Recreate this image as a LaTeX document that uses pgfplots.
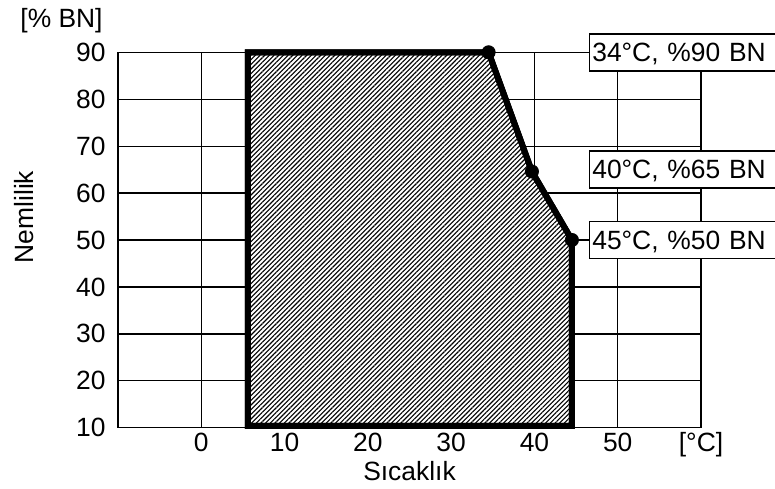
\documentclass[border=0pt]{standalone}
\usepackage{fontspec}
\setmainfont{Liberation Sans}
\usepackage{pgfplots}
\pgfplotsset{compat=1.18}
\usetikzlibrary{patterns.meta}
\begin{document}
\fontsize{13.2}{15.8}\selectfont
\begin{tikzpicture}
\begin{axis}[
  at={(0,0)}, anchor=south west,
  scale only axis, width=291.5pt, height=187.7pt,
  xmin=-10, xmax=60, ymin=10, ymax=90,
  xtick={0,10,20,30,40,50,60},
  xticklabels={0,10,20,30,40,50,[°C]},
  ytick={10,20,...,90},
  grid=major,
  major grid style={black, line width=0.65pt},
  axis line style={black, line width=0.75pt},
  major tick length=0pt,
  /pgf/number format/assume math mode=true,
  xticklabel style={anchor=base, inner sep=0pt, yshift=-11.8pt},
  yticklabel style={anchor=east, inner sep=0pt, xshift=-6pt},
  xlabel={Sıcaklık},
  xlabel style={at={(axis description cs:0.5,0)}, anchor=base, yshift=-26.3pt},
  ylabel={Nemlilik},
  ylabel style={at={(axis description cs:-0.161,0.561)}, anchor=center},
  clip=false,
]
\addplot[draw=black, line width=3pt, line join=miter, preaction={fill=white},
  pattern={Lines[angle=45,distance=1.65pt,line width=0.55pt]}]
  coordinates {(5.6,10.4) (5.6,90) (34.5,90) (39.7,64.6) (44.5,50) (44.5,10.4)} -- cycle;
\addplot[black, line width=0.75pt] coordinates {(44.5,50) (46.5,50)};
\addplot[black, line width=0.75pt] coordinates {(34.5,90) (46.5,90)};
\addplot[only marks, mark=*, mark size=3.3pt, black] coordinates {(34.5,90) (39.7,64.6) (44.5,50)};
\node[draw=black, line width=0.75pt, fill=white, anchor=west, inner xsep=1.5pt, inner ysep=0pt,
  text width=91pt, align=left, text height=13.85pt, text depth=4.65pt] at (axis cs:46.5,90) {34°C, \%90 BN};
\node[draw=black, line width=0.75pt, fill=white, anchor=west, inner xsep=1.5pt, inner ysep=0pt,
  text width=91pt, align=left, text height=13.85pt, text depth=4.65pt] at (axis cs:46.5,65) {40°C, \%65 BN};
\node[draw=black, line width=0.75pt, fill=white, anchor=west, inner xsep=1.5pt, inner ysep=0pt,
  text width=91pt, align=left, text height=13.85pt, text depth=4.65pt] at (axis cs:46.5,50) {45°C, \%50 BN};
\node[anchor=east, inner sep=0pt, xshift=-7.5pt] at (axis cs:-10,96.8) {[\% BN]};
\end{axis}
\pgfresetboundingbox
\path[use as bounding box] (-59pt,-30.15pt) rectangle (328.5pt,213.85pt);
\end{tikzpicture}
\end{document}
